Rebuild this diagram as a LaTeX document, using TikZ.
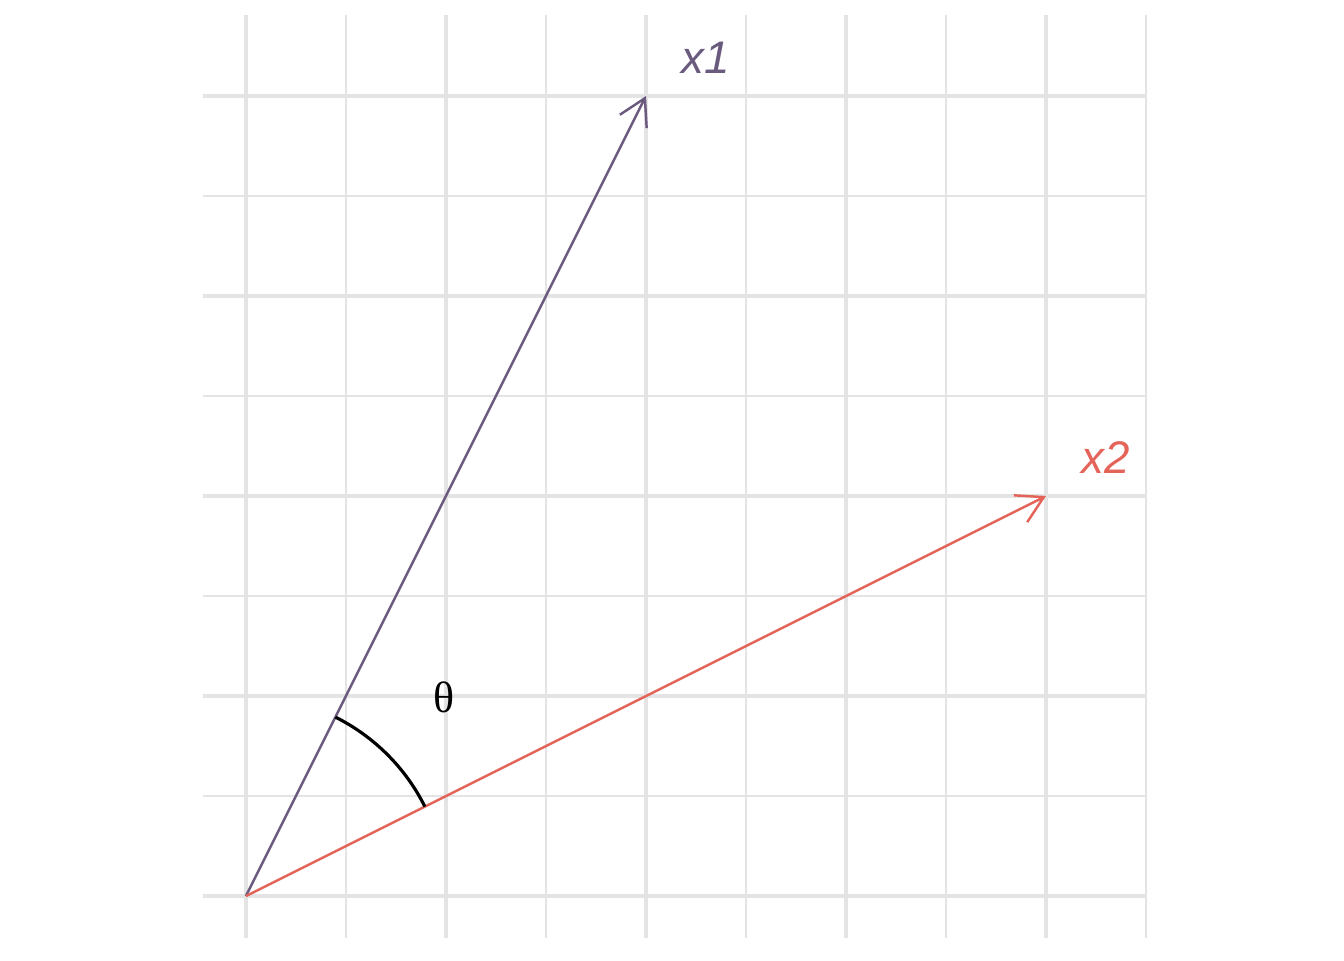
\documentclass[tikz,border=0pt]{standalone}
\usepackage{fontspec}
\setmainfont{Liberation Sans}
\newfontfamily\thetafont{Liberation Serif}
\usetikzlibrary{calc,arrows.meta}

\definecolor{vecone}{HTML}{6A5A7E}
\definecolor{vectwo}{HTML}{E5645A}
\definecolor{gridgray}{HTML}{E4E4E4}

\begin{document}
\begin{tikzpicture}[x=2cm,y=2cm,
    majorline/.style={gridgray, line width=0.9pt},
    minorline/.style={gridgray, line width=0.45pt},
    vecarrow/.style={line width=0.7pt, -{Straight Barb[length=0.26cm,width=0.30cm]}},
    veclabel/.style={font=\itshape\fontsize{13}{15}\selectfont},
    anglearc/.style={black, line width=0.9pt}]
  \useasboundingbox (-1.23,-0.32) rectangle (5.49,4.48);

  % Minor grid
  \foreach \v in {0.5,1.5,2.5,3.5,4.5} {
    \draw[minorline] (\v,-0.21) -- (\v,4.405);
  }
  \foreach \v in {0.5,1.5,2.5,3.5} {
    \draw[minorline] (-0.215,\v) -- (4.505,\v);
  }

  % Major grid
  \foreach \v in {0,...,4} {
    \draw[majorline] (\v,-0.21) -- (\v,4.405);
    \draw[majorline] (-0.215,\v) -- (4.505,\v);
  }

  % Vectors
  \coordinate (O) at (0,0);
  \coordinate (X1) at (2,4);
  \coordinate (X2) at (4,2);
  \draw[vecarrow, vecone] (O) -- (X1);
  \draw[vecarrow, vectwo] (O) -- (X2);

  % Labels
  \node[veclabel, text=vecone] (labx1) at (2.3,4.19) {x1};
  \node[veclabel, text=vectwo] (labx2) at (4.3,2.19) {x2};

  % Angle between vectors
  \draw[anglearc] ([shift={(26.565:1)}]O) arc[start angle=26.565, end angle=63.435, radius=2cm];
  \node[font=\thetafont\fontsize{12.5}{14}\selectfont] (theta) at (0.99,0.995) {θ};
\end{tikzpicture}
\end{document}
